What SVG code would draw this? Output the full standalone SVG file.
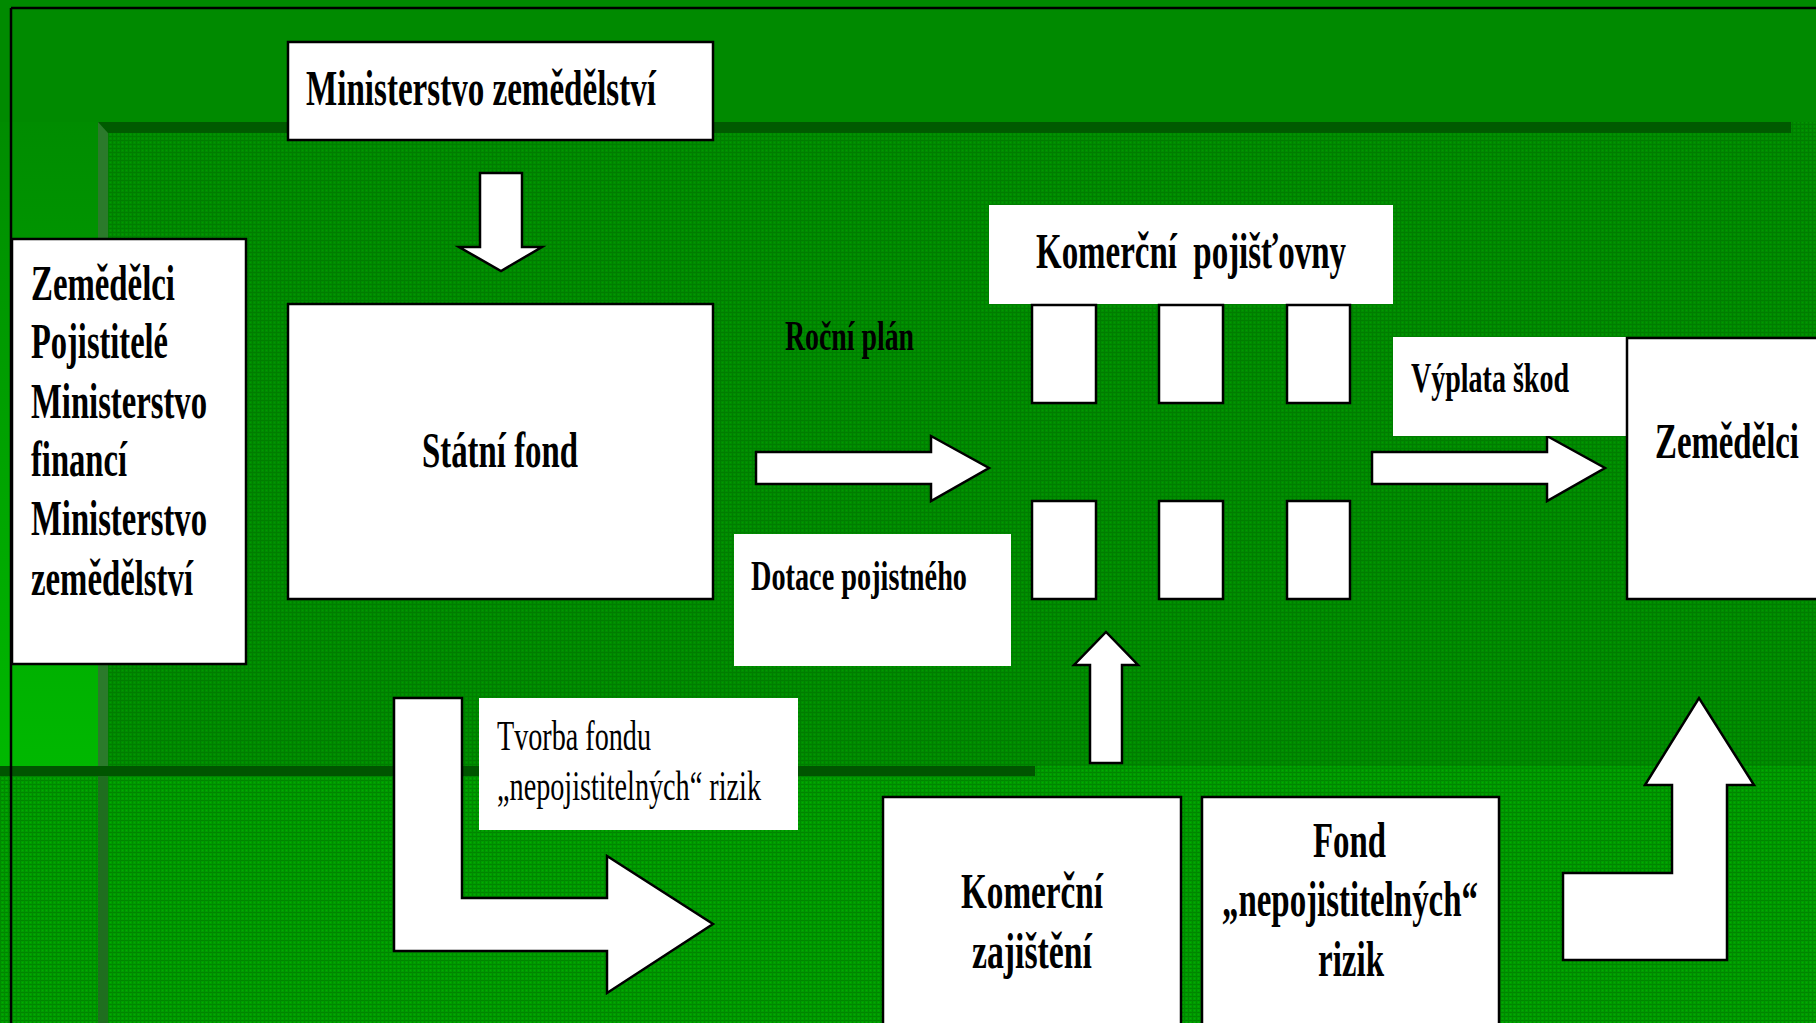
<svg xmlns="http://www.w3.org/2000/svg" width="1816" height="1023" viewBox="0 0 1816 1023">
<defs>
<pattern id="texA" width="4" height="4" patternUnits="userSpaceOnUse">
<rect width="4" height="4" fill="#008c00"/>
<rect width="4" height="1" fill="#007c00"/>
<rect width="1" height="4" fill="#007e00"/>
<rect x="2" y="2" width="1" height="1" fill="#009a00"/>
</pattern>
<pattern id="texB" width="4" height="4" patternUnits="userSpaceOnUse">
<rect width="4" height="4" fill="#009c00"/>
<rect width="4" height="1" fill="#008400"/>
<rect width="1" height="4" fill="#008a00"/>
<rect x="2" y="2" width="1" height="1" fill="#00ae00"/>
</pattern>
<linearGradient id="leftCol" x1="0" y1="0" x2="0" y2="1">
<stop offset="0" stop-color="#008c00"/>
<stop offset="1" stop-color="#00b800"/>
</linearGradient>
<style>
.box{fill:#fff;stroke:#000;stroke-width:2.5}
.tbox{fill:#fff;stroke:none}
.arrow{fill:#fff;stroke:#000;stroke-width:2.5;stroke-linejoin:miter}
.b{font-family:"Liberation Serif","Times New Roman",serif;font-weight:bold;fill:#000}
.r{font-family:"Liberation Serif","Times New Roman",serif;font-weight:normal;fill:#000}
</style>
</defs>

<g id="background">
<rect width="1816" height="1023" fill="#008a00"/>
<rect x="0" y="122" width="98" height="644" fill="url(#leftCol)"/>
<rect x="108" y="122" width="1708" height="654" fill="url(#texA)"/>
<rect x="0" y="766" width="1816" height="257" fill="url(#texB)"/>
<rect x="98" y="122" width="10" height="644" fill="#2b7a2b"/>
<rect x="98" y="776" width="10" height="247" fill="#1f6e1f"/>
<polygon points="98,122 1791,122 1791,133 108,133" fill="#005a00"/>
<rect x="0" y="766" width="1035" height="10" fill="#005500"/>
<line x1="11" y1="8" x2="1816" y2="8" stroke="#000" stroke-width="2.5"/>
<line x1="11" y1="8" x2="11" y2="1023" stroke="#000" stroke-width="2.5"/>
</g>

<g id="connectors">
<path class="arrow" d="M480,173 H522 V247 H542 L501,271 L459,247 H480 Z"/>
<path class="arrow" d="M756,452 H931 V436 L989,468 L931,501 V484 H756 Z"/>
<path class="arrow" d="M1090,763 V665 H1074 L1106,632 L1138,665 H1122 V763 Z"/>
<path class="arrow" d="M1372,452 H1547 V436 L1605,468 L1547,501 V484 H1372 Z"/>
<path class="arrow" d="M394,698 H462 V898 H607 V856 L713,924 L607,993 V951 H394 Z"/>
<path class="arrow" d="M1563,960 V873 H1672 V785 H1645 L1699,698 L1754,785 H1727 V960 Z"/>
</g>

<g id="ministerstvo">
<rect class="box" x="288" y="42" width="425" height="98"/>
<text class="b" x="306" y="105" font-size="50" textLength="350" lengthAdjust="spacingAndGlyphs">Ministerstvo zemědělství</text>
</g>

<g id="ucastnici">
<rect class="box" x="12" y="239" width="234" height="425"/>
<text class="b" font-size="50">
<tspan x="31" y="300" textLength="144" lengthAdjust="spacingAndGlyphs">Zemědělci</tspan>
<tspan x="31" y="358" textLength="137" lengthAdjust="spacingAndGlyphs">Pojistitelé</tspan>
<tspan x="31" y="418" textLength="176" lengthAdjust="spacingAndGlyphs">Ministerstvo</tspan>
<tspan x="31" y="476" textLength="96" lengthAdjust="spacingAndGlyphs">financí</tspan>
<tspan x="31" y="535" textLength="176" lengthAdjust="spacingAndGlyphs">Ministerstvo</tspan>
<tspan x="31" y="595" textLength="162" lengthAdjust="spacingAndGlyphs">zemědělství</tspan>
</text>
</g>

<g id="statni-fond">
<rect class="box" x="288" y="304" width="425" height="295"/>
<text class="b" x="422" y="467" font-size="50" textLength="156" lengthAdjust="spacingAndGlyphs">Státní fond</text>
</g>

<g id="rocni-plan">
<text class="b" x="785" y="350" font-size="42" textLength="129" lengthAdjust="spacingAndGlyphs">Roční plán</text>
</g>

<g id="dotace">
<rect class="tbox" x="734" y="534" width="277" height="132"/>
<text class="b" x="751" y="590" font-size="42" textLength="216" lengthAdjust="spacingAndGlyphs">Dotace pojistného</text>
</g>

<g id="komercni-pojistovny">
<rect class="tbox" x="989" y="205" width="404" height="99"/>
<text class="b" x="1036" y="268" font-size="50" textLength="310" lengthAdjust="spacingAndGlyphs" xml:space="preserve">Komerční  pojišťovny</text>
<rect class="box" x="1032" y="305" width="64" height="98"/>
<rect class="box" x="1159" y="305" width="64" height="98"/>
<rect class="box" x="1287" y="305" width="63" height="98"/>
<rect class="box" x="1032" y="501" width="64" height="98"/>
<rect class="box" x="1159" y="501" width="64" height="98"/>
<rect class="box" x="1287" y="501" width="63" height="98"/>
</g>

<g id="vyplata">
<rect class="tbox" x="1393" y="337" width="233" height="99"/>
<text class="b" x="1411" y="392" font-size="42" textLength="158" lengthAdjust="spacingAndGlyphs">Výplata škod</text>
</g>

<g id="zemedelci">
<rect class="box" x="1627" y="338" width="200" height="261"/>
<text class="b" x="1655" y="458" font-size="50" textLength="144" lengthAdjust="spacingAndGlyphs">Zemědělci</text>
</g>

<g id="tvorba">
<rect class="tbox" x="479" y="698" width="319" height="132"/>
<text class="r" font-size="42">
<tspan x="497" y="750" textLength="154" lengthAdjust="spacingAndGlyphs">Tvorba fondu</tspan>
<tspan x="497" y="800" textLength="264" lengthAdjust="spacingAndGlyphs">„nepojistitelných“ rizik</tspan>
</text>
</g>

<g id="komercni-zajisteni">
<rect class="box" x="883" y="797" width="298" height="240"/>
<text class="b" font-size="50">
<tspan x="961" y="908" textLength="142" lengthAdjust="spacingAndGlyphs">Komerční</tspan>
<tspan x="972" y="968" textLength="120" lengthAdjust="spacingAndGlyphs">zajištění</tspan>
</text>
</g>

<g id="fond-nepojistitelnych">
<rect class="box" x="1202" y="797" width="297" height="240"/>
<text class="b" font-size="50">
<tspan x="1313" y="857" textLength="73" lengthAdjust="spacingAndGlyphs">Fond</tspan>
<tspan x="1222" y="916" textLength="256" lengthAdjust="spacingAndGlyphs">„nepojistitelných“</tspan>
<tspan x="1318" y="976" textLength="66" lengthAdjust="spacingAndGlyphs">rizik</tspan>
</text>
</g>
</svg>
